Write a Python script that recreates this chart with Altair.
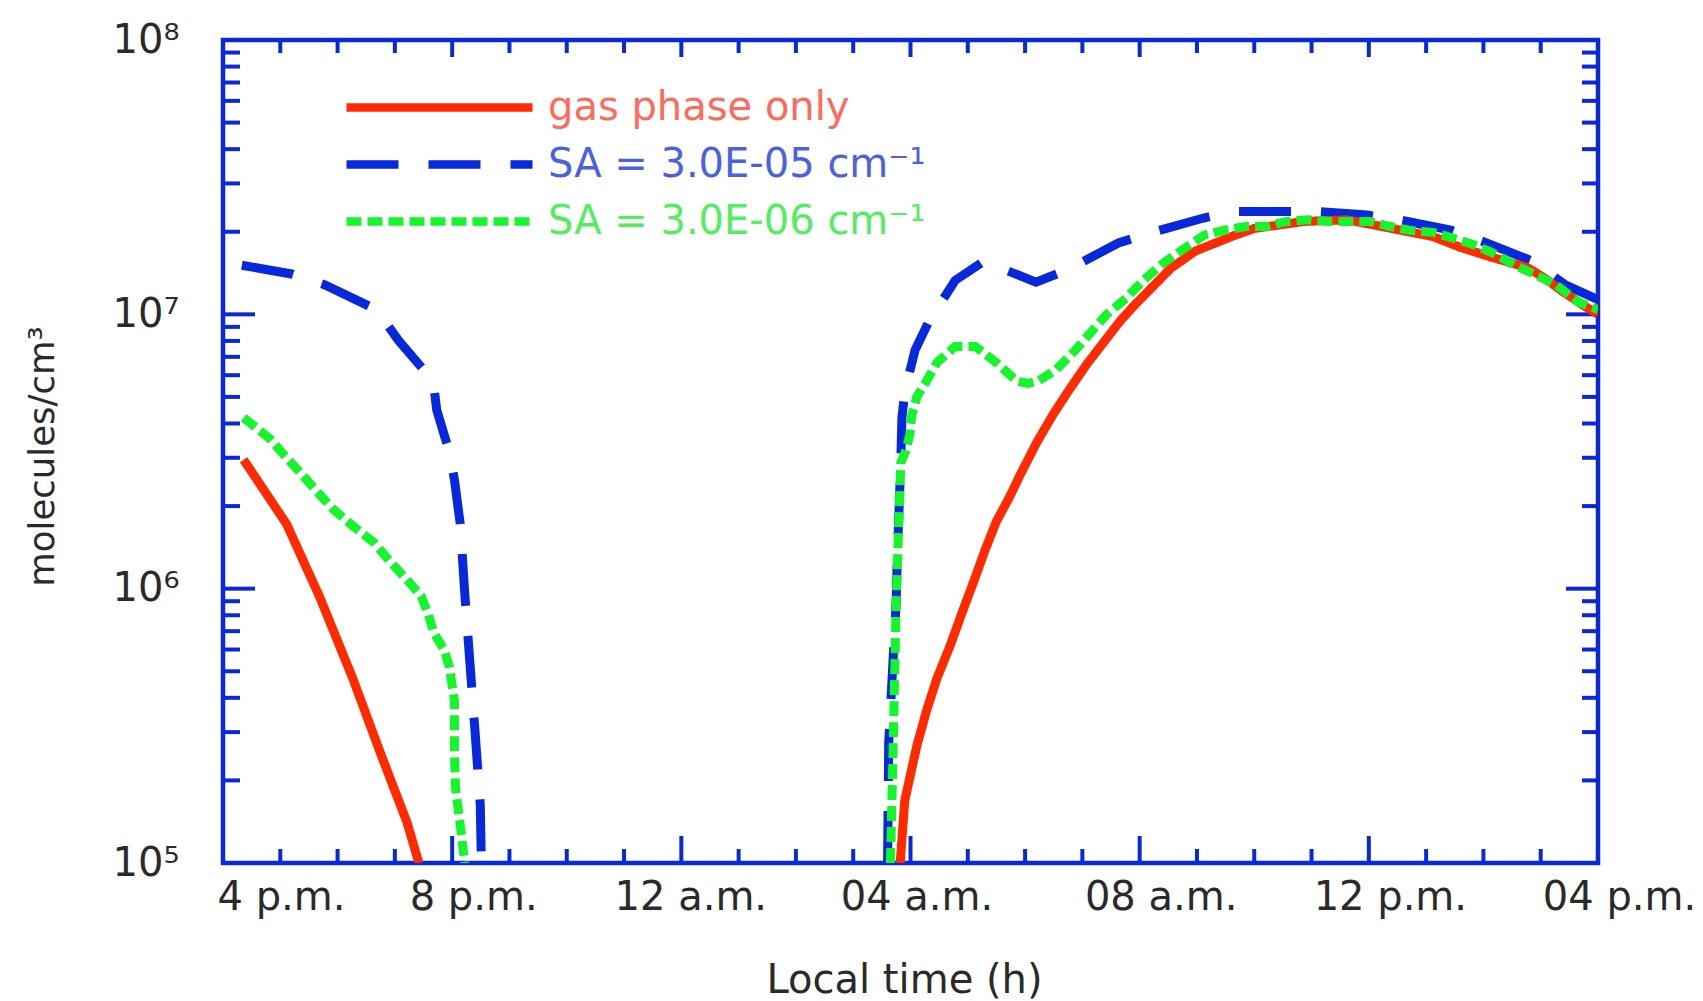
import altair as alt
import pandas as pd

# ---------------- data ----------------
SERIES = ["gas phase only", "SA = 3.0E-05 cm\u207b\u00b9", "SA = 3.0E-06 cm\u207b\u00b9"]

# gas phase only (red)
red_eve_h = [16.36, 17.11, 17.69, 18.27, 18.74, 19.21, 19.42]
red_eve_v = [2.95e6, 1.72e6, 9.3e5, 4.68e5, 2.54e5, 1.41e5, 1.0e5]
red_mor_h = [27.82, 27.90, 28.11, 28.28, 28.46, 28.69, 28.89, 29.10, 29.30, 29.50, 29.74, 29.91,
             30.20, 30.49, 30.78, 31.08, 31.36, 31.66, 31.88, 32.54, 32.97, 33.60, 34.00, 34.87,
             35.62, 36.25, 37.12, 37.58, 38.12, 38.77, 39.08, 39.37, 39.77, 40.0]
red_mor_v = [1.0e5, 1.69e5, 2.67e5, 3.59e5, 4.70e5, 6.18e5, 8.07e5, 1.057e6, 1.38e6, 1.76e6, 2.18e6, 2.59e6,
             3.40e6, 4.32e6, 5.35e6, 6.59e6, 7.85e6, 9.46e6, 1.064e7, 1.47e7, 1.70e7, 1.92e7, 2.056e7, 2.18e7,
             2.21e7, 2.085e7, 1.92e7, 1.76e7, 1.62e7, 1.48e7, 1.35e7, 1.216e7, 1.07e7, 1.0e7]

# SA = 3.0E-05 (blue dashed)
blue_eve_h = [16.33, 17.22, 17.78, 18.68, 19.06, 19.67, 19.73, 19.96, 20.04, 20.14, 20.22, 20.31,
              20.40, 20.49, 20.51]
blue_eve_v = [1.51e7, 1.40e7, 1.28e7, 1.04e7, 8.05e6, 5.71e6, 4.49e6, 3.10e6, 2.49e6, 1.73e6, 9.6e5, 5.35e5,
              3.0e5, 1.64e5, 1.0e5]
blue_mor_h = [27.60, 27.62, 27.66, 27.75, 27.77, 27.83, 27.85, 27.90, 28.08, 28.31, 28.78, 29.28,
              30.19, 30.73, 31.63, 32.19, 33.10, 33.63, 34.53, 35.09, 35.97, 36.53, 37.43, 38.0,
              38.87, 39.43, 40.0]
blue_mor_v = [1.0e5, 2.75e5, 3.98e5, 9.0e5, 1.32e6, 2.87e6, 4.19e6, 5.21e6, 7.41e6, 9.33e6, 1.33e7, 1.56e7,
              1.31e7, 1.45e7, 1.82e7, 1.98e7, 2.24e7, 2.37e7, 2.37e7, 2.37e7, 2.30e7, 2.21e7, 2.03e7, 1.84e7,
              1.56e7, 1.28e7, 1.13e7]

# SA = 3.0E-06 (green dotted)
green_eve_h = [16.36, 16.82, 17.09, 17.37, 17.64, 17.91, 18.27, 18.64, 18.91, 19.19, 19.46, 19.58,
               19.68, 19.86, 19.95, 20.04, 20.04, 20.06, 20.14, 20.22]
green_eve_v = [4.2e6, 3.52e6, 3.03e6, 2.62e6, 2.26e6, 1.96e6, 1.69e6, 1.47e6, 1.26e6, 1.09e6, 9.4e5, 8.1e5,
               6.9e5, 6.0e5, 5.2e5, 3.9e5, 2.5e5, 1.86e5, 1.38e5, 1.0e5]
green_mor_h = [27.65, 27.70, 27.75, 27.83, 27.92, 27.99, 28.02, 28.11, 28.28, 28.46, 28.78, 29.13,
               29.50, 29.85, 30.05, 30.23, 30.55, 30.88, 31.13, 31.41, 31.76, 32.07, 32.41, 32.78,
               33.13, 33.50, 33.85, 34.22, 34.56, 34.94, 35.31, 35.66, 36.02, 36.37, 36.74, 37.12,
               37.49, 37.84, 38.18, 38.55, 38.92, 39.27, 39.65, 40.0]
green_mor_v = [1.0e5, 2.8e5, 8.9e5, 2.88e6, 3.19e6, 3.66e6, 4.27e6, 5.0e6, 5.71e6, 6.67e6, 7.64e6, 7.64e6,
               6.67e6, 5.71e6, 5.6e6, 5.71e6, 6.31e6, 7.41e6, 8.51e6, 9.93e6, 1.143e7, 1.333e7, 1.535e7, 1.74e7,
               1.945e7, 2.03e7, 2.09e7, 2.09e7, 2.18e7, 2.21e7, 2.18e7, 2.18e7, 2.18e7, 2.09e7, 2.02e7, 1.99e7,
               1.89e7, 1.79e7, 1.67e7, 1.51e7, 1.39e7, 1.28e7, 1.11e7, 1.04e7]

# axis ticks / labels
tick_hours = [16, 20, 24, 28, 32, 36, 40]
tick_text = ["4 p.m.", "8 p.m.", "12 a.m.", "04 a.m.", "08 a.m.", "12 p.m.", "04 p.m."]
minor_hours = [h for h in range(16, 41) if h not in tick_hours]
y_major = [1e5, 1e6, 1e7, 1e8]
y_major_text = ["10\u2075", "10\u2076", "10\u2077", "10\u2078"]
y_minor = [k * 10 ** n for n in (5, 6, 7) for k in range(2, 10)]

# ---------------- styles ----------------
RED, BLUE, GREEN = "#FF2A00", "#0828DC", "#14F52C"
LABEL_COLORS = ["#FF6A5A", "#4A62E2", "#52EE5E"]
FONT = "DejaVu Sans"
W, H = 1375, 823

rows = []
idx = 0
for name, segs in [(SERIES[1], [(blue_eve_h, blue_eve_v), (blue_mor_h, blue_mor_v)]),
                   (SERIES[0], [(red_eve_h, red_eve_v), (red_mor_h, red_mor_v)]),
                   (SERIES[2], [(green_eve_h, green_eve_v), (green_mor_h, green_mor_v)])]:
    for si, (hs, vs) in enumerate(segs):
        for h, v in zip(hs, vs):
            rows.append({"hour": h, "value": v, "series": name, "seg": f"{name}-{si}", "idx": idx})
            idx += 1
df = pd.DataFrame(rows)

xscale = alt.Scale(domain=[16, 40], nice=False, zero=False)
yscale = alt.Scale(type="log", domain=[1e5, 1e8], nice=False)

x_expr = " : ".join(f"datum.value == {h} ? '{t}'" for h, t in zip(tick_hours, tick_text)) + " : ''"
y_expr = ("datum.value > 5e7 ? '%s' : datum.value > 5e6 ? '%s' : datum.value > 5e5 ? '%s' : '%s'"
          % (y_major_text[3], y_major_text[2], y_major_text[1], y_major_text[0]))

xaxis = alt.Axis(values=tick_hours, labelExpr=x_expr, title="Local time (h)", tickSize=0, domain=False,
                 grid=False, labelFontSize=40, labelFont=FONT, labelColor="#2a2a2a", labelPadding=14,
                 labelAlign="center", labelBaseline="top", labelFlush=False, labelOverlap=False,
                 labelOffset={"condition": [{"test": "datum.value == 16", "value": 58},
                                            {"test": "datum.value == 24", "value": 9},
                                            {"test": "datum.value == 28", "value": 6}],
                              "value": 21},
                 titleFont=FONT, titleFontSize=40, titleFontWeight="normal", titleColor="#2a2a2a",
                 titleX=681, titleY=129, titleBaseline="alphabetic", titleAlign="center")
yaxis = alt.Axis(values=y_major, labelExpr=y_expr, title="molecules/cm\u00b3", tickSize=0, domain=False,
                 grid=False, labelFontSize=40, labelFont=FONT, labelColor="#2a2a2a", labelPadding=44,
                 labelAlign="right", labelBaseline="middle", labelFlush=False, labelOverlap=False,
                 titleFont=FONT, titleFontSize=35.5, titleFontWeight="normal", titleColor="#2a2a2a",
                 titleX=-181, titleY=416, titleAngle=270, titleBaseline="middle", titleAlign="center")

label_color_expr = ("datum.label == '%s' ? '%s' : datum.label == '%s' ? '%s' : '%s'"
                    % (SERIES[0], LABEL_COLORS[0], SERIES[1], LABEL_COLORS[1], LABEL_COLORS[2]))
legend = alt.Legend(title=None, orient="none", legendX=119, legendY=39, symbolType="stroke",
                    symbolSize=34600, symbolStrokeWidth=8.5, labelFontSize=40, labelFont=FONT,
                    labelOffset=11, labelLimit=800, rowPadding=0, clipHeight=57, padding=0,
                    labelColor={"expr": label_color_expr})

lines = alt.Chart(df).mark_line(strokeWidth=9, clip=True).encode(
    x=alt.X("hour:Q", scale=xscale, axis=xaxis),
    y=alt.Y("value:Q", scale=yscale, axis=yaxis),
    color=alt.Color("series:N", scale=alt.Scale(domain=SERIES, range=[RED, BLUE, GREEN]), legend=legend),
    strokeDash=alt.StrokeDash("series:N", scale=alt.Scale(domain=SERIES, range=[[1, 0], [52, 30], [15, 6]]),
                              legend=legend),
    detail="seg:N",
    order="idx:Q",
)

ymaj = pd.DataFrame({"value": y_major})
ymin = pd.DataFrame({"value": y_minor})
xmaj = pd.DataFrame({"hour": tick_hours})
xmin = pd.DataFrame({"hour": minor_hours})


def yticks(d, x0, x1):
    return alt.Chart(d).mark_rule(color=BLUE, strokeWidth=4).encode(
        y=alt.Y("value:Q", scale=yscale, axis=yaxis), x=alt.value(x0), x2=alt.value(x1))


def xticks(d, y0, y1):
    return alt.Chart(d).mark_rule(color=BLUE, strokeWidth=4).encode(
        x=alt.X("hour:Q", scale=xscale, axis=xaxis), y=alt.value(y0), y2=alt.value(y1))


chart = alt.layer(
    yticks(ymaj, 0, 32), yticks(ymin, 0, 17), yticks(ymaj, W, W - 32), yticks(ymin, W, W - 16),
    xticks(xmaj, H, H - 27), xticks(xmin, H, H - 14), xticks(xmaj, 0, 17), xticks(xmin, 0, 13),
    lines,
).properties(
    width=W, height=H,
    autosize=alt.AutoSizeParams(type="none"),
    padding={"left": 223, "top": 40, "right": 105, "bottom": 138},
    background="white",
).configure_view(stroke=BLUE, strokeWidth=4.5)

chart.save("out.html", embed_options={"renderer": "svg", "actions": False})
